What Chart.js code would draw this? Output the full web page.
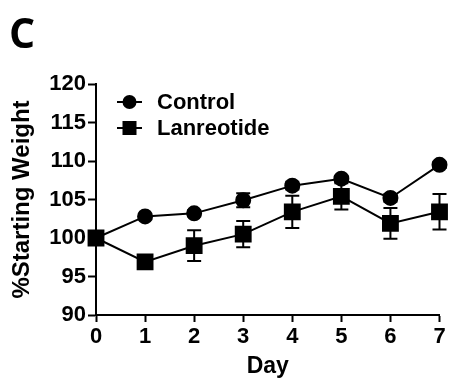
<!DOCTYPE html>
<html>
<head>
<meta charset="utf-8">
<script src="https://cdn.jsdelivr.net/npm/chart.js@4"></script>
<style>
  body { margin: 0; background: #fff; }
  #wrap { position: relative; width: 452px; height: 380px; }
  #panel { position: absolute; left: 9px; top: 4px; font: bold 41px "Open Sans", sans-serif; color: #000; }
</style>
</head>
<body>
<div id="wrap">
  <canvas id="weight" width="452" height="380"></canvas>
  <div id="panel">C</div>
</div>
<script>
const days = [0, 1, 2, 3, 4, 5, 6, 7];
const control = [100, 102.8, 103.2, 104.9, 106.8, 107.7, 105.2, 109.5];
const controlErr = [0, 0.3, 0.4, 0.9, 0.5, 0.4, 0.5, 0.4];
const lanreotide = [100, 96.9, 99.0, 100.5, 103.4, 105.4, 101.9, 103.4];
const lanreotideErr = [0, 0.4, 2.0, 1.7, 2.1, 1.7, 2.0, 2.3];
const yTicks = [90, 95, 100, 105, 110, 115, 120];

const FONT = '"Liberation Sans", Arial, sans-serif';

// error bars, drawn from the data through the scales
const errorBars = {
  id: 'errorBars',
  beforeDatasetsDraw(chart) {
    const ctx = chart.ctx;
    const x = chart.scales.x, y = chart.scales.y;
    ctx.save();
    ctx.strokeStyle = '#000';
    ctx.lineWidth = 2;
    chart.data.datasets.forEach(ds => {
      ds.data.forEach((p, i) => {
        const e = ds.err[i];
        if (!e) return;
        const px = x.getPixelForValue(p.x);
        const top = y.getPixelForValue(p.y + e);
        const bot = y.getPixelForValue(p.y - e);
        ctx.beginPath();
        ctx.moveTo(px, top); ctx.lineTo(px, bot);
        ctx.moveTo(px - 7, top); ctx.lineTo(px + 7, top);
        ctx.moveTo(px - 7, bot); ctx.lineTo(px + 7, bot);
        ctx.stroke();
      });
    });
    ctx.restore();
  }
};

// legend with line + marker, inside the plot
const innerLegend = {
  id: 'innerLegend',
  afterDraw(chart) {
    const ctx = chart.ctx;
    const a = chart.chartArea;
    ctx.save();
    chart.data.datasets.forEach((ds, i) => {
      const cy = a.top + 18 + i * 26;
      const x0 = a.left + 21, x1 = a.left + 46, cx = (x0 + x1) / 2;
      ctx.strokeStyle = '#000';
      ctx.lineWidth = 2;
      ctx.beginPath(); ctx.moveTo(x0, cy); ctx.lineTo(x1, cy); ctx.stroke();
      ctx.fillStyle = '#000';
      if (ds.pointStyle === 'rect') {
        ctx.fillRect(cx - 7, cy - 7, 14, 14);
      } else {
        ctx.beginPath(); ctx.arc(cx, cy, 7, 0, Math.PI * 2); ctx.fill();
      }
      ctx.font = 'bold 22px ' + FONT;
      ctx.textBaseline = 'middle';
      ctx.fillText(ds.label, a.left + 61, cy + 1);
    });
    ctx.restore();
  }
};

const toPoints = vals => vals.map((v, i) => ({x: days[i], y: v}));

new Chart(document.getElementById('weight'), {
  type: 'line',
  data: {
    datasets: [
      {
        label: 'Control',
        data: toPoints(control),
        err: controlErr,
        borderColor: '#000',
        backgroundColor: '#000',
        borderWidth: 2,
        pointStyle: 'circle',
        pointRadius: 7,
        clip: false,
        order: 1
      },
      {
        label: 'Lanreotide',
        data: toPoints(lanreotide),
        err: lanreotideErr,
        borderColor: '#000',
        backgroundColor: '#000',
        borderWidth: 2,
        pointStyle: 'rect',
        pointRadius: 10.5,
        clip: false,
        order: 0
      }
    ]
  },
  options: {
    responsive: false,
    animation: false,
    devicePixelRatio: 1,
    layout: { padding: { top: 84, right: 9, left: 0, bottom: 0 } },
    plugins: { legend: { display: false }, tooltip: { enabled: false } },
    scales: {
      x: {
        type: 'linear',
        min: 0, max: 7,
        afterFit: s => { s.height = 65; s.paddingRight = 0; },
        ticks: { stepSize: 1, color: '#000', padding: 2, font: { family: FONT, size: 22, weight: 'bold' } },
        grid: { drawOnChartArea: false, drawTicks: true, tickLength: 7, tickWidth: 2, tickColor: '#000' },
        border: { color: '#000', width: 2 },
        title: { display: true, text: 'Day', color: '#000', padding: { top: 1, bottom: 0 }, font: { family: FONT, size: 23, weight: 'bold' } }
      },
      y: {
        min: 90, max: 120,
        afterFit: s => { s.width = 96; },
        afterBuildTicks: s => { s.ticks = yTicks.map(v => ({value: v})); },
        ticks: { color: '#000', padding: 2, font: { family: FONT, size: 22, weight: 'bold' } },
        grid: { drawOnChartArea: false, drawTicks: true, tickLength: 8, tickWidth: 2, tickColor: '#000' },
        border: { color: '#000', width: 2 },
        title: { display: true, text: '%Starting Weight', color: '#000', padding: { top: 8, bottom: 0 }, font: { family: FONT, size: 24, weight: 'bold' } }
      }
    }
  },
  plugins: [errorBars, innerLegend]
});
</script>
</body>
</html>
